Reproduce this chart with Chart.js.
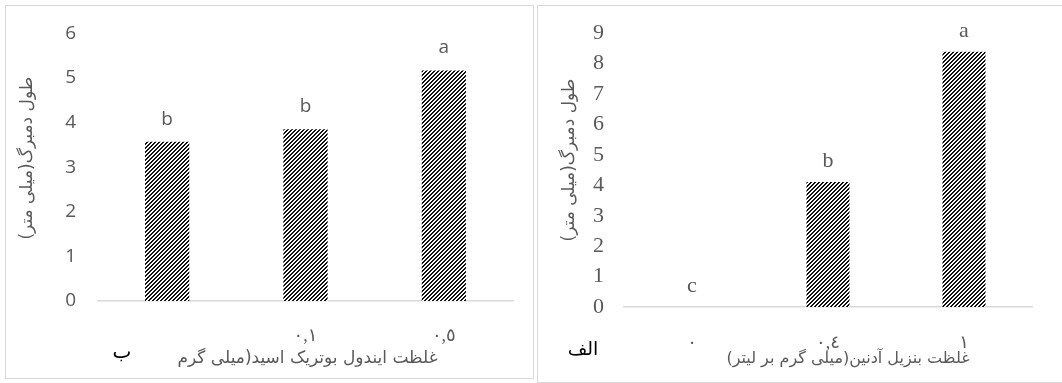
<!DOCTYPE html>
<html>
<head>
<meta charset="utf-8">
<script src="https://cdn.jsdelivr.net/npm/chart.js@4.4.1/dist/chart.umd.min.js"></script>
<style>
  html, body { margin: 0; padding: 0; background: #fff; width: 1062px; height: 383px; overflow: hidden; }
  .panel { position: absolute; border: 1px solid #d9d9d9; box-sizing: border-box; }
  canvas { position: absolute; left: 0; top: 0; }
</style>
</head>
<body>
<div class="panel" style="left:5px; top:5px; width:529px; height:374px;"></div>
<div class="panel" style="left:537px; top:5px; width:530px; height:378px;"></div>
<canvas id="chartIBA" width="1062" height="383"></canvas>
<canvas id="chartBA" width="1062" height="383"></canvas>
<script>
// Panel "ب": petiole length vs. indole butyric acid concentration
const ibaTickLabels = ['', '٠,١', '٠,٥'];
const ibaPetiole = [3.57, 3.85, 5.17];
const ibaLetters = ['b', 'b', 'a'];

// Panel "الف": petiole length vs. benzyl adenine concentration
const baTickLabels = ['٠', '٠,٤', '١'];
const baPetiole = [0, 4.11, 8.39];
const baLetters = ['c', 'b', 'a'];

const yTitle = 'طول دمبرگ(میلی متر)';
const ibaXTitle = 'غلظت ایندول بوتریک اسید(میلی گرم';
const baXTitle = 'غلظت بنزیل آدنین(میلی گرم بر لیتر)';

// Dense upward-diagonal hatch used to fill the bars
function hatchPattern() {
  const c = document.createElement('canvas');
  c.width = 4; c.height = 4;
  const g = c.getContext('2d');
  g.fillStyle = '#ffffff';
  g.fillRect(0, 0, 4, 4);
  g.fillStyle = '#111111';
  for (let x = 0; x < 4; x++) {
    for (let y = 0; y < 4; y++) {
      const k = (x + y) % 4;
      if (k === 0 || k === 1) g.fillRect(x, y, 1, 1);
    }
  }
  return g.createPattern(c, 'repeat');
}

// Significance letters above bars, axis titles and the panel tag
const panelText = {
  id: 'panelText',
  afterDatasetsDraw(chart, args, o) {
    const ctx = chart.ctx;
    const area = chart.chartArea;
    const meta = chart.getDatasetMeta(0);
    ctx.save();
    ctx.textAlign = 'center';
    ctx.textBaseline = 'alphabetic';
    ctx.fillStyle = '#595959';
    ctx.font = o.letterFont;
    meta.data.forEach((bar, i) => {
      ctx.fillText(o.letters[i], bar.x, bar.y - o.letterGap);
    });

    ctx.direction = 'rtl';
    ctx.textBaseline = 'middle';
    ctx.font = o.titleFont;
    ctx.fillStyle = '#595959';
    // x-axis title
    ctx.fillText(o.xTitle, (area.left + area.right) / 2 + o.xTitleDx, o.xTitleY);
    // y-axis title, rotated
    ctx.save();
    ctx.font = o.yTitleFont;
    ctx.translate(o.yTitleX, (area.top + area.bottom) / 2 + o.yTitleDy);
    ctx.rotate(-Math.PI / 2);
    ctx.fillText(yTitle, 0, 0);
    ctx.restore();
    // panel tag
    ctx.fillStyle = '#000000';
    ctx.font = o.tagFont;
    ctx.fillText(o.tag, o.tagX, o.tagY);
    ctx.restore();
  }
};

function barChart(id, labels, values, opts) {
  return new Chart(document.getElementById(id), {
    type: 'bar',
    data: {
      labels: labels,
      datasets: [{
        data: values,
        backgroundColor: hatchPattern(),
        borderWidth: 0,
        barPercentage: opts.barPct,
        categoryPercentage: 1
      }]
    },
    options: {
      responsive: false,
      animation: false,
      devicePixelRatio: 1,
      layout: { padding: opts.padding },
      plugins: {
        legend: { display: false },
        tooltip: { enabled: false },
        panelText: opts.text
      },
      scales: {
        x: {
          grid: { display: false, drawTicks: false },
          border: { display: true, color: '#d9d9d9', width: 1.5 },
          ticks: {
            font: { family: "'Liberation Serif', 'DejaVu Sans'", size: 18 },
            color: '#595959',
            padding: opts.xTickPad,
            maxRotation: 0,
            autoSkip: false
          },
          afterFit(s) { s.height = opts.xHeight; }
        },
        y: {
          min: 0,
          max: opts.yMax,
          ticks: {
            stepSize: 1,
            font: opts.yFont,
            color: '#595959',
            padding: opts.yTickPad
          },
          grid: { display: false, drawTicks: false },
          border: { display: false },
          afterFit(s) { s.width = opts.yWidth; }
        }
      }
    },
    plugins: [panelText]
  });
}

barChart('chartIBA', ibaTickLabels, ibaPetiole, {
  barPct: 0.32,
  padding: { left: 0, top: 25, right: 549, bottom: 0 },
  xHeight: 82,
  xTickPad: 24,
  yWidth: 98,
  yMax: 6,
  yTickPad: 22,
  yFont: { family: "'Open Sans'", size: 19 },
  text: {
    letters: ibaLetters,
    letterFont: "19px 'Open Sans'",
    letterGap: 17,
    titleFont: "17px 'DejaVu Sans'",
    yTitleFont: "17px 'DejaVu Sans'",
    xTitle: ibaXTitle,
    xTitleDx: 2,
    xTitleY: 359,
    yTitleX: 28,
    yTitleDy: -9,
    tag: 'ب',
    tagFont: "20px 'DejaVu Sans'",
    tagX: 122,
    tagY: 353
  }
});

barChart('chartBA', baTickLabels, baPetiole, {
  barPct: 0.316,
  padding: { left: 537, top: 23, right: 30, bottom: 0 },
  xHeight: 76,
  xTickPad: 25,
  yWidth: 87,
  yMax: 9,
  yTickPad: 20,
  yFont: { family: "'Liberation Serif'", size: 22 },
  text: {
    letters: baLetters,
    letterFont: "22px 'Liberation Serif'",
    letterGap: 15,
    titleFont: "16px 'DejaVu Sans'",
    yTitleFont: "17px 'DejaVu Sans'",
    xTitle: baXTitle,
    xTitleDx: 20,
    xTitleY: 359,
    yTitleX: 570,
    yTitleDy: -10,
    tag: 'الف',
    tagFont: "19px 'DejaVu Sans'",
    tagX: 583,
    tagY: 350
  }
});
</script>
</body>
</html>
